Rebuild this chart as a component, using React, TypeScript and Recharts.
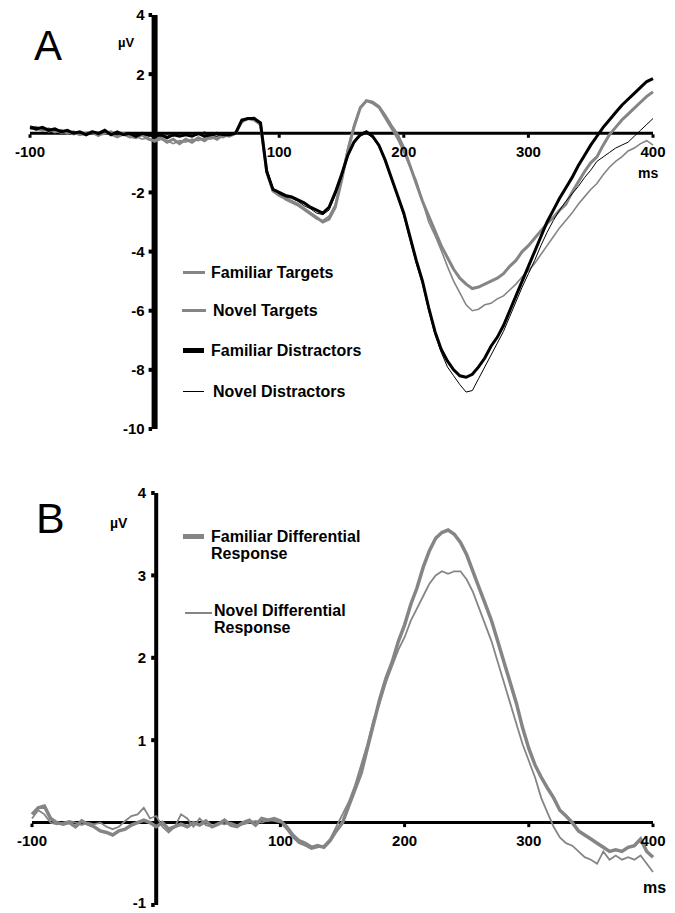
import React from 'react';
import { LineChart, Line, XAxis, YAxis, ReferenceLine, ReferenceDot, Legend } from 'recharts';

const FONT = '"Liberation Sans", Arial, Helvetica, sans-serif';
const GRAY = '#858585';

// time axis (ms)
const TIMES = [
  -100, -95, -90, -85, -80, -75, -70, -65, -60, -55,
  -50, -45, -40, -35, -30, -25, -20, -15, -10, -5,
  0, 5, 10, 15, 20, 25, 30, 35, 40, 45,
  50, 55, 60, 65, 70, 75, 80, 85, 90, 95,
  100, 105, 110, 115, 120, 125, 130, 135, 140, 145,
  150, 155, 160, 165, 170, 175, 180, 185, 190, 195,
  200, 205, 210, 215, 220, 225, 230, 235, 240, 245,
  250, 255, 260, 265, 270, 275, 280, 285, 290, 295,
  300, 305, 310, 315, 320, 325, 330, 335, 340, 345,
  350, 355, 360, 365, 370, 375, 380, 385, 390, 395,
  400,
];

// Panel A (µV)
const FAMILIAR_TARGETS = [
  0.15, 0.2, 0.1, 0.15, 0.05, 0.1, 0.0, 0.05, -0.05, 0.0,
  0.05, -0.05, 0.0, 0.05, -0.1, 0.0, -0.1, -0.15, -0.05, -0.2,
  -0.25, -0.15, -0.3, -0.2, -0.35, -0.2, -0.3, -0.15, -0.25, -0.1,
  -0.2, -0.05, -0.1, 0.0, 0.4, 0.5, 0.45, 0.3, -1.3, -1.95,
  -2.1, -2.2, -2.3, -2.4, -2.55, -2.7, -2.85, -3.0, -2.9, -2.5,
  -1.6, -0.6, 0.2, 0.85, 1.1, 1.05, 0.9, 0.6, 0.25, -0.05,
  -0.5, -1.1, -1.7, -2.3, -2.8, -3.3, -3.8, -4.2, -4.6, -4.9,
  -5.1, -5.25, -5.2, -5.1, -5.0, -4.9, -4.75, -4.5, -4.3, -4.0,
  -3.8, -3.55, -3.3, -3.05, -2.85, -2.6, -2.4, -2.0, -1.65, -1.3,
  -1.0, -0.8, -0.4, -0.05, 0.2, 0.45, 0.65, 0.85, 1.05, 1.25,
  1.4,
];
const NOVEL_TARGETS = [
  0.2, 0.1, 0.15, 0.05, 0.1, 0.0, 0.05, -0.05, 0.0, -0.05,
  0.0, -0.1, 0.05, -0.05, -0.15, -0.05, -0.15, -0.1, -0.2, -0.15,
  -0.3, -0.2, -0.25, -0.35, -0.25, -0.3, -0.2, -0.25, -0.15, -0.2,
  -0.1, -0.15, -0.05, 0.0, 0.35, 0.5, 0.5, 0.25, -1.25, -1.9,
  -2.05, -2.25, -2.35, -2.45, -2.6, -2.75, -2.9, -2.95, -2.8, -2.4,
  -1.5, -0.5, 0.3, 0.9, 1.1, 1.0, 0.85, 0.5, 0.15, -0.2,
  -0.65, -1.15, -1.6, -2.3, -3.0, -3.45, -3.95, -4.5, -5.0, -5.4,
  -5.8, -6.0, -5.95, -5.8, -5.75, -5.6, -5.5, -5.3, -5.1, -4.85,
  -4.65, -4.4, -4.1, -3.8, -3.5, -3.2, -2.95, -2.7, -2.4, -2.15,
  -1.9, -1.7, -1.4, -1.15, -0.95, -0.8, -0.6, -0.5, -0.35, -0.25,
  -0.4,
];
const FAMILIAR_DISTRACTORS = [
  0.2, 0.15, 0.2, 0.1, 0.15, 0.05, 0.1, 0.0, 0.05, -0.05,
  0.05, 0.0, 0.1, -0.05, 0.05, -0.05, 0.0, -0.1, 0.0, -0.05,
  -0.1, -0.05, -0.15, -0.05, -0.1, -0.05, -0.1, 0.0, -0.1, -0.05,
  0.0, -0.05, -0.05, 0.0, 0.45, 0.5, 0.5, 0.35, -1.3, -1.9,
  -2.0, -2.1, -2.15, -2.25, -2.35, -2.5, -2.6, -2.7, -2.5, -2.0,
  -1.4, -0.75, -0.3, -0.05, 0.05, -0.1, -0.4, -0.9, -1.5, -2.1,
  -2.7, -3.5, -4.3, -5.0, -5.9, -6.7, -7.3, -7.7, -8.0, -8.2,
  -8.25, -8.15, -7.9, -7.6, -7.2, -6.9, -6.5, -6.0, -5.5, -5.0,
  -4.5, -4.0, -3.5, -3.0, -2.6, -2.2, -1.85, -1.5, -1.1, -0.75,
  -0.4, -0.1, 0.2, 0.45, 0.7, 0.95, 1.15, 1.35, 1.55, 1.75,
  1.85,
];
const NOVEL_DISTRACTORS = [
  0.25, 0.2, 0.15, 0.15, 0.1, 0.1, 0.05, 0.05, 0.0, 0.0,
  0.05, -0.05, 0.05, 0.0, -0.05, 0.0, -0.05, -0.05, 0.0, -0.1,
  -0.05, -0.1, -0.05, -0.1, 0.0, -0.05, -0.1, -0.05, 0.05, -0.05,
  -0.1, 0.0, -0.05, 0.05, 0.4, 0.5, 0.55, 0.3, -1.2, -1.85,
  -2.05, -2.15, -2.2, -2.3, -2.45, -2.55, -2.7, -2.75, -2.6, -2.1,
  -1.5, -0.8, -0.35, -0.1, 0.0, -0.15, -0.45, -0.95, -1.55, -2.15,
  -2.8, -3.6, -4.4, -5.1, -6.0, -6.8, -7.4, -7.9, -8.2, -8.5,
  -8.75, -8.7, -8.3, -7.9, -7.5, -7.1, -6.7, -6.2, -5.7, -5.2,
  -4.75, -4.3, -3.8, -3.35, -2.95, -2.6, -2.3, -2.05, -1.8, -1.5,
  -1.25, -0.95, -0.8, -0.65, -0.5, -0.4, -0.3, -0.1, 0.1, 0.3,
  0.5,
];

// Panel B (µV)
const FAMILIAR_DIFF = [
  0.1, 0.18, 0.2, 0.05, 0.0, -0.02, 0.0, -0.05, 0.02, -0.02,
  -0.05, -0.1, -0.12, -0.15, -0.1, -0.08, -0.03, 0.0, 0.03, 0.0,
  -0.05, 0.0, -0.08, -0.05, -0.02, -0.05, 0.0, -0.03, 0.02, -0.05,
  -0.02, 0.03, -0.03, -0.05, 0.0, 0.03, -0.03, 0.05, 0.03, 0.05,
  0.02, -0.05, -0.15, -0.22, -0.25, -0.3, -0.28, -0.3, -0.22, -0.1,
  0.0, 0.2, 0.4, 0.6, 0.9, 1.2, 1.5, 1.75, 1.95, 2.2,
  2.4, 2.65, 2.85, 3.1, 3.3, 3.45, 3.52, 3.55, 3.5, 3.4,
  3.25, 3.05, 2.85, 2.65, 2.45, 2.2, 1.95, 1.7, 1.45, 1.15,
  0.9, 0.7, 0.55, 0.42, 0.3, 0.15, 0.08, 0.0, -0.1, -0.15,
  -0.2, -0.25, -0.3, -0.35, -0.33, -0.35, -0.3, -0.28, -0.2, -0.35,
  -0.42,
];
const NOVEL_DIFF = [
  0.05, 0.15, 0.1, 0.0, -0.02, 0.0, 0.02, 0.0, -0.03, 0.0,
  -0.02, 0.0, -0.05, -0.08, -0.05, 0.02, 0.08, 0.1, 0.18, 0.05,
  0.08, -0.05, -0.12, -0.05, 0.1, 0.05, -0.05, 0.05, -0.03, -0.05,
  0.0, -0.02, 0.0, -0.03, -0.02, 0.0, 0.02, 0.0, 0.03, 0.02,
  0.0, -0.08, -0.18, -0.25, -0.28, -0.32, -0.3, -0.28, -0.2, -0.05,
  0.1, 0.25, 0.45, 0.7, 0.95, 1.25, 1.45, 1.7, 1.9, 2.1,
  2.25, 2.45, 2.6, 2.75, 2.9, 3.0, 3.05, 3.02, 3.05, 3.05,
  2.95, 2.8, 2.6, 2.4, 2.2, 1.95, 1.7, 1.45, 1.2, 0.95,
  0.75, 0.55, 0.3, 0.12, -0.05, -0.18, -0.25, -0.28, -0.35, -0.42,
  -0.45, -0.5, -0.35, -0.45, -0.4, -0.45, -0.42, -0.45, -0.4, -0.5,
  -0.6,
];

const A_Y_TICKS = [4, 2, -2, -4, -6, -8, -10];
const A_X_TICKS = [-100, 100, 200, 300, 400];
const B_Y_TICKS = [4, 3, 2, 1, -1];
const B_X_TICKS = [-100, 100, 200, 300, 400];

const DATA_A = TIMES.map((t, i) => ({
  t,
  ft: FAMILIAR_TARGETS[i],
  nt: NOVEL_TARGETS[i],
  fd: FAMILIAR_DISTRACTORS[i],
  nd: NOVEL_DISTRACTORS[i],
}));
const DATA_B = TIMES.map((t, i) => ({ t, fdiff: FAMILIAR_DIFF[i], ndiff: NOVEL_DIFF[i] }));

const A_SERIES = [
  { key: 'ft', name: 'Familiar Targets', color: GRAY, width: 3 },
  { key: 'nt', name: 'Novel Targets', color: GRAY, width: 1.6 },
  { key: 'fd', name: 'Familiar Distractors', color: '#000', width: 3 },
  { key: 'nd', name: 'Novel Distractors', color: '#000', width: 1 },
];
const B_SERIES = [
  { key: 'fdiff', name: 'Familiar Differential Response', color: GRAY, width: 3.5 },
  { key: 'ndiff', name: 'Novel Differential Response', color: GRAY, width: 1.8 },
];

// legend layout (row offset, swatch geometry, text offset)
const A_LEGEND_LAYOUT = {
  ft: { top: 0, swX: 0, swW: 22, swH: 2.5, swDy: 0, textX: 28 },
  nt: { top: 38, swX: -1, swW: 24, swH: 3, swDy: 0, textX: 30 },
  fd: { top: 77.5, swX: 0, swW: 21, swH: 5, swDy: 0, textX: 28 },
  nd: { top: 119, swX: 0, swW: 21, swH: 1.2, swDy: 0, textX: 30 },
};
const B_LEGEND_LAYOUT = {
  fdiff: { top: 0, swX: 0, swW: 21, swH: 5, swDy: 0, textX: 28 },
  ndiff: { top: 74, swX: 2, swW: 27, swH: 2.5, swDy: 3, textX: 31 },
};

const makeLegend = (series: any[], layout: any, wrap: boolean) => (props: any) => {
  const payload = props.payload || [];
  return (
    <div style={{ position: 'relative', fontFamily: FONT, fontWeight: 'bold', fontSize: 16, lineHeight: '17px', color: '#000' }}>
      {series.map((s) => {
        const entry = payload.find((p: any) => p.dataKey === s.key);
        const color = entry ? entry.color : s.color;
        const L = layout[s.key];
        return (
          <div key={s.key} style={{ position: 'absolute', top: L.top, left: 0, width: 260, height: 40 }}>
            <div
              style={{
                position: 'absolute',
                left: L.swX,
                top: 8.5 - L.swH / 2 + L.swDy,
                width: L.swW,
                height: L.swH,
                background: color,
              }}
            />
            <div
              style={{
                position: 'absolute',
                left: L.textX,
                top: 0,
                width: wrap ? 165 : 240,
                whiteSpace: wrap ? 'normal' : 'nowrap',
              }}
            >
              {entry ? entry.value : s.name}
            </div>
          </div>
        );
      })}
    </div>
  );
};

const yTick = (label: string, half: number, dx: number, shiftUp: number) => (p: any) => (
  <g>
    <rect x={p.cx - half - 3} y={p.cy - 2} width={3.5} height={4} fill="#000" />
    <text
      x={p.cx - dx}
      y={p.cy - shiftUp}
      dy="0.36em"
      textAnchor="end"
      fontFamily={FONT}
      fontWeight="bold"
      fontSize={15}
      fill="#000"
    >
      {label}
    </text>
  </g>
);

const xTick = (label: string, dy: number) => (p: any) => (
  <g>
    <rect x={p.cx - 1.5} y={p.cy + 1} width={3} height={3.5} fill="#000" />
    <text
      x={p.cx}
      y={p.cy + dy}
      textAnchor="middle"
      fontFamily={FONT}
      fontWeight="bold"
      fontSize={15}
      fill="#000"
    >
      {label}
    </text>
  </g>
);

const txt = { fontFamily: FONT, fill: '#000' };

export default function App() {
  return (
    <div style={{ position: 'absolute', left: 0, top: 0, width: 675, height: 913, background: '#fff', overflow: 'hidden' }}>
      <div style={{ position: 'absolute', left: 0, top: 0 }}>
        <LineChart width={675} height={460} data={DATA_A} margin={{ top: 15, right: 22, bottom: 31, left: 30 }}>
          <XAxis type="number" dataKey="t" domain={[-100, 400]} hide />
          <YAxis type="number" domain={[-10, 4]} hide />
          <ReferenceLine x={0} stroke="#000" strokeWidth={6} />
          <ReferenceLine y={0} stroke="#000" strokeWidth={3} />
          {A_Y_TICKS.map((v) => (
            <ReferenceDot key={'ay' + v} x={0} y={v} ifOverflow="visible" shape={yTick(String(v), 3, 10, 0)} />
          ))}
          {A_X_TICKS.map((v) => (
            <ReferenceDot key={'ax' + v} x={v} y={0} ifOverflow="visible" shape={xTick(String(v), 24)} />
          ))}
          {A_SERIES.map((s) => (
            <Line
              key={s.key}
              type="linear"
              dataKey={s.key}
              name={s.name}
              stroke={s.color}
              strokeWidth={s.width}
              dot={false}
              isAnimationActive={false}
            />
          ))}
          <Legend
            layout="vertical"
            align="center"
            verticalAlign="middle"
            content={makeLegend(A_SERIES, A_LEGEND_LAYOUT, false)}
            wrapperStyle={{ left: 183, top: 264, right: 'auto', bottom: 'auto', width: 260, height: 160 }}
          />
        </LineChart>
      </div>
      <div style={{ position: 'absolute', left: 0, top: 460 }}>
        <LineChart width={675} height={453} data={DATA_B} margin={{ top: 33, right: 22, bottom: 8, left: 32 }}>
          <XAxis type="number" dataKey="t" domain={[-100, 400]} hide />
          <YAxis type="number" domain={[-1, 4]} hide />
          <ReferenceLine x={0} stroke="#000" strokeWidth={4} />
          <ReferenceLine y={0} stroke="#000" strokeWidth={3} />
          {B_Y_TICKS.map((v) => (
            <ReferenceDot
              key={'by' + v}
              x={0}
              y={v}
              ifOverflow="visible"
              shape={yTick(String(v), 2, 10, v === -1 ? 2 : 0)}
            />
          ))}
          {B_X_TICKS.map((v) => (
            <ReferenceDot key={'bx' + v} x={v} y={0} ifOverflow="visible" shape={xTick(String(v), 23)} />
          ))}
          {B_SERIES.map((s) => (
            <Line
              key={s.key}
              type="linear"
              dataKey={s.key}
              name={s.name}
              stroke={s.color}
              strokeWidth={s.width}
              dot={false}
              isAnimationActive={false}
            />
          ))}
          <Legend
            layout="vertical"
            align="center"
            verticalAlign="middle"
            content={makeLegend(B_SERIES, B_LEGEND_LAYOUT, true)}
            wrapperStyle={{ left: 183, top: 67.5, right: 'auto', bottom: 'auto', width: 260, height: 120 }}
          />
        </LineChart>
      </div>
      <svg width={675} height={913} style={{ position: 'absolute', left: 0, top: 0, pointerEvents: 'none' }}>
        <text x={34} y={60} fontSize={42} {...txt}>A</text>
        <text x={118} y={47} fontSize={13} fontWeight="bold" {...txt}>µV</text>
        <text x={638} y={178} fontSize={14} fontWeight="bold" {...txt}>ms</text>
        <text x={36} y={533} fontSize={43} {...txt}>B</text>
        <text x={110} y={528} fontSize={14} fontWeight="bold" {...txt}>µV</text>
        <text x={643} y={893} fontSize={16} fontWeight="bold" {...txt}>ms</text>
      </svg>
    </div>
  );
}
